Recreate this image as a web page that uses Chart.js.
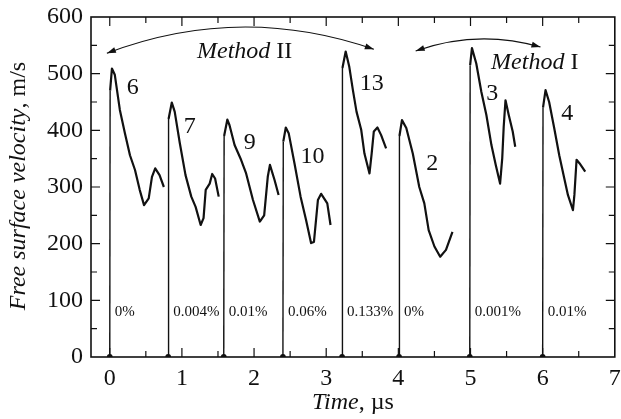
<!DOCTYPE html>
<html>
<head>
<meta charset="utf-8">
<script src="https://cdn.jsdelivr.net/npm/chart.js@4.4.0/dist/chart.umd.min.js"></script>
<style>
  html, body { margin: 0; padding: 0; background: #fff; }
  #wrap { width: 621px; height: 419px; }
</style>
</head>
<body>
<div id="wrap"><canvas id="myChart" width="621" height="419"></canvas></div>
<script>
// Time (us) and free surface velocity (m/s) for every shot
var t6 = [0.00, 0.005, 0.03, 0.07, 0.14, 0.21, 0.28, 0.35, 0.415, 0.475, 0.54, 0.585, 0.63, 0.69, 0.75];
var v6 = [0, 470, 509, 498, 436, 395, 356, 330, 295, 268, 280, 318, 333, 321, 300];

var t7 = [0.81, 0.815, 0.86, 0.90, 0.97, 1.05, 1.13, 1.19, 1.26, 1.30, 1.33, 1.385, 1.42, 1.46, 1.51];
var v7 = [0, 420, 449, 433, 378, 321, 283, 265, 233, 245, 295, 306, 323, 315, 283];

var t9 = [1.58, 1.585, 1.63, 1.66, 1.73, 1.82, 1.89, 1.985, 2.08, 2.14, 2.19, 2.22, 2.285, 2.34];
var v9 = [0, 390, 419, 409, 374, 348, 324, 277, 239, 250, 318, 339, 312, 286];

var t10 = [2.40, 2.405, 2.44, 2.48, 2.56, 2.645, 2.72, 2.79, 2.83, 2.885, 2.93, 3.015, 3.06];
var v10 = [0, 380, 405, 395, 342, 283, 242, 201, 203, 277, 288, 271, 233];

var t13 = [3.22, 3.225, 3.27, 3.32, 3.37, 3.42, 3.485, 3.53, 3.60, 3.63, 3.66, 3.71, 3.76, 3.83];
var v13 = [0, 510, 539, 512, 471, 433, 401, 359, 324, 359, 398, 405, 392, 368];

var t2 = [4.01, 4.015, 4.05, 4.11, 4.20, 4.29, 4.36, 4.42, 4.50, 4.58, 4.66, 4.75];
var v2 = [0, 390, 418, 404, 359, 300, 271, 224, 195, 177, 189, 221];

var t3 = [4.99, 4.995, 5.02, 5.08, 5.15, 5.22, 5.29, 5.35, 5.41, 5.44, 5.46, 5.485, 5.53, 5.585, 5.62];
var v3 = [0, 515, 545, 518, 468, 427, 374, 339, 306, 351, 406, 453, 427, 398, 371];

var t4 = [6.00, 6.005, 6.04, 6.09, 6.16, 6.23, 6.30, 6.35, 6.42, 6.44, 6.47, 6.51, 6.59];
var v4 = [0, 440, 471, 450, 404, 356, 315, 286, 259, 286, 348, 342, 327];

// Shot numbers and where they are written
var shotNames = ["6", "7", "9", "10", "13", "2", "3", "4"];
var shotLabelT = [0.32, 1.11, 1.94, 2.81, 3.63, 4.47, 5.30, 6.34];
var shotLabelV = [476, 406, 379, 353, 483, 341, 464, 429];

// Concentration written next to each rise front
var percentLabels = ["0%", "0.004%", "0.01%", "0.06%", "0.133%", "0%", "0.001%", "0.01%"];
var percentV = 80;

// Axis ticks
var xTicks = [0, 1, 2, 3, 4, 5, 6, 7];
var yTicks = [0, 100, 200, 300, 400, 500, 600];

// Method arcs: start, control, end as [t, v]
var methodIIArc = [[-0.04, 536], [1.80, 625], [3.66, 543]];
var methodIArc = [[4.24, 540], [5.10, 579], [5.97, 547]];
var methodIIText = [1.87, 538];
var methodIText = [5.89, 519];

var serif = "'Liberation Serif', 'Times New Roman', serif";

var traceT = [t6, t7, t9, t10, t13, t2, t3, t4];
var traceV = [v6, v7, v9, v10, v13, v2, v3, v4];

var datasets = [];
for (var i = 0; i < traceT.length; i++) {
    var pts = [];
    for (var j = 0; j < traceT[i].length; j++) {
        pts.push({ x: traceT[i][j], y: traceV[i][j] });
    }
    datasets.push({
        label: shotNames[i],
        data: pts,
        borderColor: "#111",
        backgroundColor: "#111",
        borderWidth: 2.2,
        tension: 0,
        borderJoinStyle: "round",
        pointRadius: function (ctx) { return ctx.dataIndex === 0 ? 1.8 : 0; },
        segment: {
            borderWidth: function (ctx) { return ctx.p0DataIndex === 0 ? 1.4 : 2.2; }
        }
    });
}

function drawArrowHead(ctx, tipX, tipY, fromX, fromY) {
    var ang = Math.atan2(tipY - fromY, tipX - fromX);
    var len = 9, half = 3;
    ctx.beginPath();
    ctx.moveTo(tipX, tipY);
    ctx.lineTo(tipX - len * Math.cos(ang) + half * Math.sin(ang), tipY - len * Math.sin(ang) - half * Math.cos(ang));
    ctx.lineTo(tipX - len * Math.cos(ang) - half * Math.sin(ang), tipY - len * Math.sin(ang) + half * Math.cos(ang));
    ctx.closePath();
    ctx.fill();
}

function drawArc(ctx, xs, ys, arc) {
    var p = arc.map(function (a) { return [xs.getPixelForValue(a[0]), ys.getPixelForValue(a[1])]; });
    ctx.beginPath();
    ctx.moveTo(p[0][0], p[0][1]);
    ctx.quadraticCurveTo(p[1][0], p[1][1], p[2][0], p[2][1]);
    ctx.stroke();
    drawArrowHead(ctx, p[0][0], p[0][1], p[1][0], p[1][1]);
    drawArrowHead(ctx, p[2][0], p[2][1], p[1][0], p[1][1]);
}

// italic word followed by an upright part, centred on x
function drawMixed(ctx, italicPart, uprightPart, size, x, y) {
    ctx.font = "italic " + size + "px " + serif;
    var w1 = ctx.measureText(italicPart).width;
    ctx.font = size + "px " + serif;
    var w2 = ctx.measureText(uprightPart).width;
    var left = x - (w1 + w2) / 2;
    ctx.textAlign = "left";
    ctx.textBaseline = "middle";
    ctx.font = "italic " + size + "px " + serif;
    ctx.fillText(italicPart, left, y);
    ctx.font = size + "px " + serif;
    ctx.fillText(uprightPart, left + w1, y);
}

var decorPlugin = {
    id: "decor",
    afterDatasetsDraw: function (chart) {
        var ctx = chart.ctx;
        var xs = chart.scales.x, ys = chart.scales.y;
        var a = chart.chartArea;
        ctx.save();
        ctx.strokeStyle = "#111";
        ctx.fillStyle = "#111";

        // frame
        ctx.lineWidth = 1.6;
        ctx.strokeRect(a.left, a.top, a.right - a.left, a.bottom - a.top);

        // inward ticks on all four sides
        ctx.lineWidth = 1.2;
        ctx.beginPath();
        for (var k = 0; k <= 14; k++) {
            var xv = k * 0.5;
            var px = xs.getPixelForValue(xv);
            var len = (k % 2 === 0) ? 9 : 6;
            if (px <= a.left || px >= a.right) continue;
            ctx.moveTo(px, a.bottom); ctx.lineTo(px, a.bottom - len);
            ctx.moveTo(px, a.top); ctx.lineTo(px, a.top + len);
        }
        for (var m = 0; m <= 12; m++) {
            var yv = m * 50;
            var py = ys.getPixelForValue(yv);
            var ylen = (m % 2 === 0) ? 9 : 6;
            if (py <= a.top + 0.5 || py >= a.bottom - 0.5) continue;
            ctx.moveTo(a.left, py); ctx.lineTo(a.left + ylen, py);
            ctx.moveTo(a.right, py); ctx.lineTo(a.right - ylen, py);
        }
        ctx.stroke();

        // shot numbers
        ctx.font = "24px " + serif;
        ctx.textAlign = "center";
        ctx.textBaseline = "middle";
        for (var i = 0; i < shotNames.length; i++) {
            ctx.fillText(shotNames[i], xs.getPixelForValue(shotLabelT[i]), ys.getPixelForValue(shotLabelV[i]));
        }

        // concentrations
        ctx.font = "15px " + serif;
        ctx.textAlign = "left";
        for (var n = 0; n < percentLabels.length; n++) {
            ctx.fillText(percentLabels[n], xs.getPixelForValue(traceT[n][0]) + 5, ys.getPixelForValue(percentV));
        }

        // method arcs and captions
        ctx.lineWidth = 1.2;
        drawArc(ctx, xs, ys, methodIIArc);
        drawArc(ctx, xs, ys, methodIArc);
        drawMixed(ctx, "Method", " II", 24, xs.getPixelForValue(methodIIText[0]), ys.getPixelForValue(methodIIText[1]));
        drawMixed(ctx, "Method", " I", 24, xs.getPixelForValue(methodIText[0]), ys.getPixelForValue(methodIText[1]));

        // axis titles
        drawMixed(ctx, "Time", ", \u00B5s", 24, (a.left + a.right) / 2, 403);
        ctx.translate(19, 186);
        ctx.rotate(-Math.PI / 2);
        drawMixed(ctx, "Free surface velocity", ", m/s", 24, 0, 0);
        ctx.restore();
    }
};

var myChart;
function buildChart() {
    myChart = new Chart(document.getElementById("myChart"), {
        type: "line",
        data: { datasets: datasets },
        options: {
            responsive: false,
            animation: false,
            devicePixelRatio: 1,
            layout: { padding: { top: 17, right: 6, left: 0, bottom: 0 } },
            plugins: { legend: { display: false }, tooltip: { enabled: false } },
            scales: {
                x: {
                    type: "linear",
                    min: -0.26,
                    max: 7,
                    grid: { display: false, drawTicks: false },
                    border: { display: false },
                    afterBuildTicks: function (s) { s.ticks = xTicks.map(function (v) { return { value: v }; }); },
                    afterFit: function (s) { s.height = 62; s.paddingLeft = 0; s.paddingRight = 0; },
                    ticks: {
                        autoSkip: false,
                        maxRotation: 0,
                        padding: 7,
                        color: "#111",
                        font: { family: serif, size: 24 }
                    }
                },
                y: {
                    min: 0,
                    max: 600,
                    grid: { display: false, drawTicks: false },
                    border: { display: false },
                    afterBuildTicks: function (s) { s.ticks = yTicks.map(function (v) { return { value: v }; }); },
                    afterFit: function (s) { s.width = 91; s.paddingTop = 0; s.paddingBottom = 0; },
                    ticks: {
                        padding: 8,
                        color: "#111",
                        font: { family: serif, size: 24 }
                    }
                }
            }
        },
        plugins: [decorPlugin]
    });
}

buildChart();
// make sure both faces are ready, then redraw
if (document.fonts && document.fonts.load) {
    Promise.all([
        document.fonts.load("24px 'Liberation Serif'"),
        document.fonts.load("italic 24px 'Liberation Serif'")
    ]).then(function () { myChart.update(); });
}
</script>
</body>
</html>
